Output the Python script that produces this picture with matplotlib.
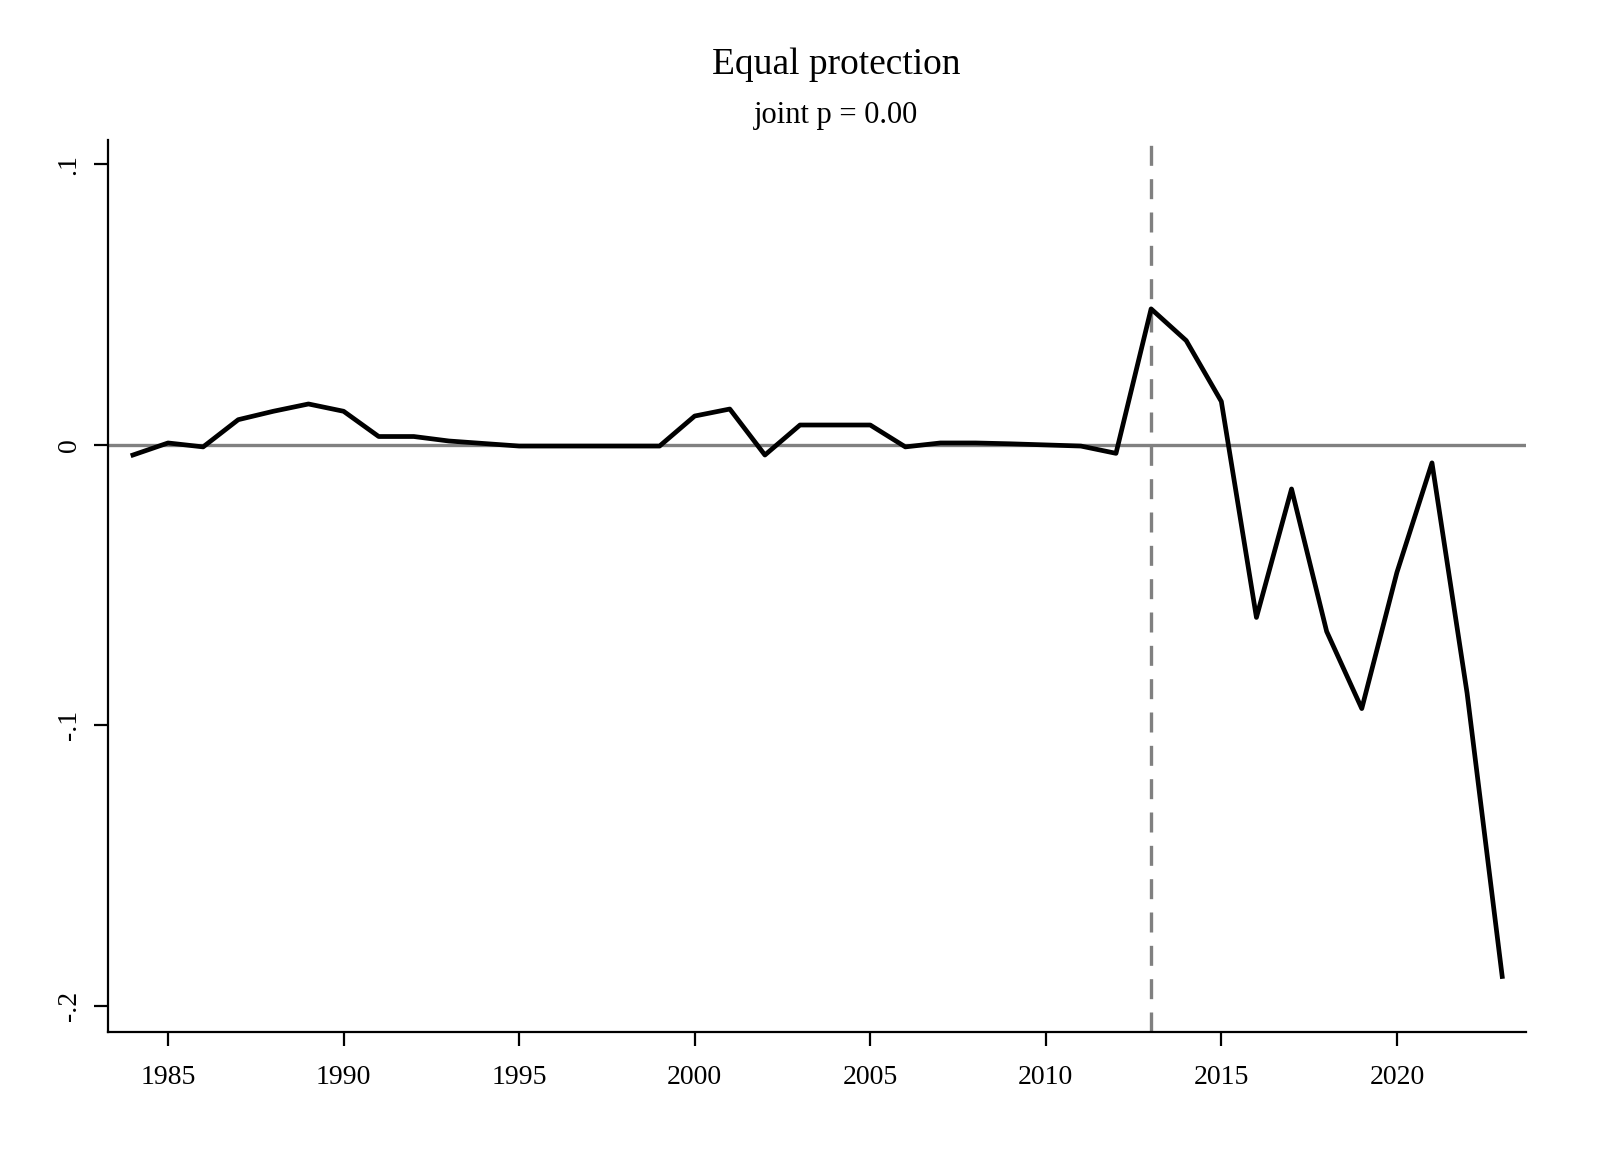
import numpy as np
import matplotlib
matplotlib.use('Agg')
import matplotlib.pyplot as plt

# data
years = list(range(1984, 2024))
coef = [-0.0036, 0.0007, -0.0007, 0.0090, 0.0120, 0.0146, 0.0120, 0.0030,
        0.0030, 0.0014, 0.0005, -0.0004, -0.0004, -0.0004, -0.0004, -0.0004,
        0.0103, 0.0128, -0.0036, 0.0071, 0.0071, 0.0071, -0.0007, 0.0007,
        0.0007, 0.0004, 0.0000, -0.0004, -0.0030, 0.0485, 0.0372, 0.0155,
        -0.0615, -0.0157, -0.0665, -0.0940, -0.0455, -0.0064, -0.0885, -0.1895]
xticks = [1985, 1990, 1995, 2000, 2005, 2010, 2015, 2020]
yticks = [0.1, 0, -0.1, -0.2]
ylabels = ['.1', '0', '-.1', '-.2']
event_year = 2013

plt.rcParams['font.family'] = ['Liberation Serif', 'DejaVu Serif']

fig = plt.figure(figsize=(16, 11.64), dpi=100)
ax = fig.add_axes([0.0675, 0.1134, 0.8863, 0.7663])

ax.axhline(0, color='#808080', lw=2.4, zorder=1)
ax.axvline(event_year, color='#808080', lw=2.4, ls=(0, (6, 4)), zorder=1)
ax.plot(years, coef, color='black', lw=3.4, zorder=3)

ax.set_xlim(1983.29, 2023.68)
ax.set_ylim(-0.2093, 0.1087)
ax.set_xticks(xticks)
ax.set_xticklabels([str(x) for x in xticks])
ax.set_yticks(yticks)
ax.set_yticklabels(ylabels, rotation=90, va='center')

for s in ['top', 'right']:
    ax.spines[s].set_visible(False)
for s in ['left', 'bottom']:
    ax.spines[s].set_linewidth(1.6)
ax.tick_params(axis='both', direction='out', length=10, width=1.6,
               labelsize=20, pad=9)
ax.tick_params(axis='x', pad=14)

fig.text(0.5225, 0.944, 'Equal protection', ha='center', va='center', fontsize=27)
fig.text(0.5225, 0.901, 'joint p = 0.00', ha='center', va='center', fontsize=22)

fig.savefig('out.png', dpi=100)
